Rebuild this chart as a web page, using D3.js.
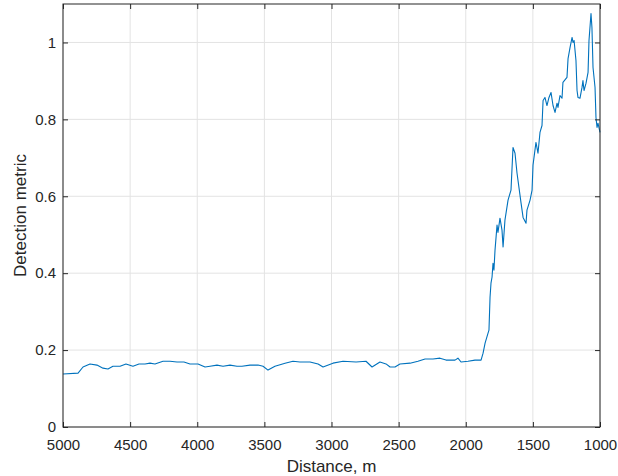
<!DOCTYPE html>
<html>
<head>
<meta charset="utf-8">
<style>
    body { margin: 0; background: #fff; }
    svg { display: block; font-family: "Liberation Sans", Arial, sans-serif; }
    .grid line { stroke: #e3e3e3; stroke-width: 1; }
    .tick text { fill: #262626; font-size: 15px; }
</style>
</head>
<body>
<svg width="618" height="476"></svg>
<script src="https://d3js.org/d3.v7.min.js"></script>
<script>
// distance (m) along the track
var distance = [5000, 4888, 4851, 4799, 4747, 4702, 4665, 4628, 4575, 4531, 4479, 4434, 4389, 4352, 4315,
    4255, 4203, 4151, 4099, 4054, 3994, 3942, 3905, 3853, 3808, 3756, 3704, 3667, 3607, 3547, 3510, 3473,
    3421, 3346, 3287, 3235, 3160, 3100, 3063, 2989, 2914, 2817, 2743, 2698, 2639, 2594, 2564, 2527, 2490,
    2415, 2356, 2303, 2244, 2192, 2147, 2080, 2058, 2035, 1983, 1931, 1886, 1871, 1856, 1834, 1827, 1819,
    1812, 1804, 1797, 1790, 1782, 1767, 1760, 1745, 1730, 1722, 1708, 1685, 1663, 1648, 1633, 1618, 1596,
    1588, 1573, 1551, 1544, 1521, 1506, 1499, 1477, 1462, 1447, 1432, 1424, 1410, 1395, 1380, 1365, 1350,
    1335, 1320, 1313, 1298, 1283, 1276, 1246, 1238, 1223, 1208, 1201, 1193, 1179, 1171, 1164, 1149, 1134,
    1127, 1119, 1104, 1089, 1082, 1067, 1060, 1052, 1037, 1030, 1022, 1015, 1000];
var metric = [0.138, 0.140, 0.156, 0.164, 0.161, 0.153, 0.151, 0.158, 0.158, 0.164, 0.158, 0.164, 0.164, 0.166, 0.164,
    0.171, 0.171, 0.169, 0.169, 0.164, 0.164, 0.156, 0.158, 0.161, 0.158, 0.161, 0.158, 0.158, 0.161, 0.161, 0.158, 0.148,
    0.158, 0.166, 0.171, 0.169, 0.169, 0.164, 0.156, 0.166, 0.171, 0.169, 0.171, 0.156, 0.169, 0.164, 0.156, 0.156, 0.164,
    0.166, 0.171, 0.177, 0.177, 0.179, 0.174, 0.174, 0.179, 0.169, 0.171, 0.174, 0.174, 0.192, 0.218, 0.244, 0.252, 0.338,
    0.374, 0.390, 0.426, 0.408, 0.460, 0.525, 0.506, 0.543, 0.512, 0.468, 0.538, 0.590, 0.616, 0.727, 0.712, 0.660, 0.603,
    0.582, 0.545, 0.530, 0.564, 0.590, 0.616, 0.681, 0.740, 0.712, 0.766, 0.784, 0.849, 0.857, 0.836, 0.857, 0.870, 0.836,
    0.818, 0.842, 0.831, 0.862, 0.855, 0.896, 0.909, 0.958, 0.987, 1.013, 1.000, 1.005, 0.953, 0.875, 0.857, 0.855, 0.883,
    0.901, 0.875, 0.894, 0.922, 1.005, 1.075, 1.039, 0.935, 0.883, 0.805, 0.779, 0.790, 0.766];
var xTicks = [5000, 4500, 4000, 3500, 3000, 2500, 2000, 1500, 1000];
var yTicks = [0, 0.2, 0.4, 0.6, 0.8, 1];

var svg = d3.select("svg");
var margin = {top: 4, right: 18, bottom: 49, left: 63},
    width = 618 - margin.left - margin.right,
    height = 476 - margin.top - margin.bottom;

var g = svg.append("g").attr("transform", "translate(" + margin.left + "," + margin.top + ")");

var x = d3.scaleLinear().domain([5000, 1000]).range([0, width]);
var y = d3.scaleLinear().domain([0, 1.1]).range([height, 0]);

// grid
g.append("g").attr("class", "grid")
    .selectAll("line").data(xTicks).enter().append("line")
    .attr("x1", function(d) { return x(d); }).attr("x2", function(d) { return x(d); })
    .attr("y1", 0).attr("y2", height);
g.append("g").attr("class", "grid")
    .selectAll("line").data(yTicks).enter().append("line")
    .attr("x1", 0).attr("x2", width)
    .attr("y1", function(d) { return y(d); }).attr("y2", function(d) { return y(d); });

// data line
var line = d3.line()
    .x(function(d, i) { return x(distance[i]); })
    .y(function(d) { return y(d); });
g.append("path")
    .datum(metric)
    .attr("fill", "none")
    .attr("stroke", "#0072BD")
    .attr("stroke-width", 1.1)
    .attr("stroke-linejoin", "round")
    .attr("d", line);

// axes, ticks inward, box on
function styleAxis(sel) {
    sel.select(".domain").remove();
    sel.selectAll(".tick line").attr("stroke", "#262626");
}
var fmt = function(d) { return d3.format("")(d); };
g.append("g").attr("transform", "translate(0," + height + ")")
    .call(d3.axisBottom(x).tickValues(xTicks).tickSizeInner(-5).tickSizeOuter(0).tickPadding(12).tickFormat(fmt))
    .call(styleAxis);
g.append("g")
    .call(d3.axisTop(x).tickValues(xTicks).tickSizeInner(-5).tickSizeOuter(0).tickFormat(""))
    .call(styleAxis);
g.append("g")
    .call(d3.axisLeft(y).tickValues(yTicks).tickSizeInner(-5).tickSizeOuter(0).tickPadding(7).tickFormat(fmt))
    .call(styleAxis);
g.append("g").attr("transform", "translate(" + width + ",0)")
    .call(d3.axisRight(y).tickValues(yTicks).tickSizeInner(-5).tickSizeOuter(0).tickFormat(""))
    .call(styleAxis);

g.append("rect")
    .attr("width", width).attr("height", height)
    .attr("fill", "none").attr("stroke", "#262626").attr("stroke-width", 1);

g.selectAll(".tick text").attr("font-family", null).attr("font-size", null);

// labels
svg.append("text")
    .attr("x", margin.left + width / 2).attr("y", 472)
    .attr("text-anchor", "middle")
    .attr("fill", "#262626").attr("font-size", "17px")
    .text("Distance, m");
svg.append("text")
    .attr("transform", "translate(26," + (margin.top + height / 2) + ") rotate(-90)")
    .attr("text-anchor", "middle")
    .attr("fill", "#262626").attr("font-size", "17px")
    .text("Detection metric");
</script>
</body>
</html>
